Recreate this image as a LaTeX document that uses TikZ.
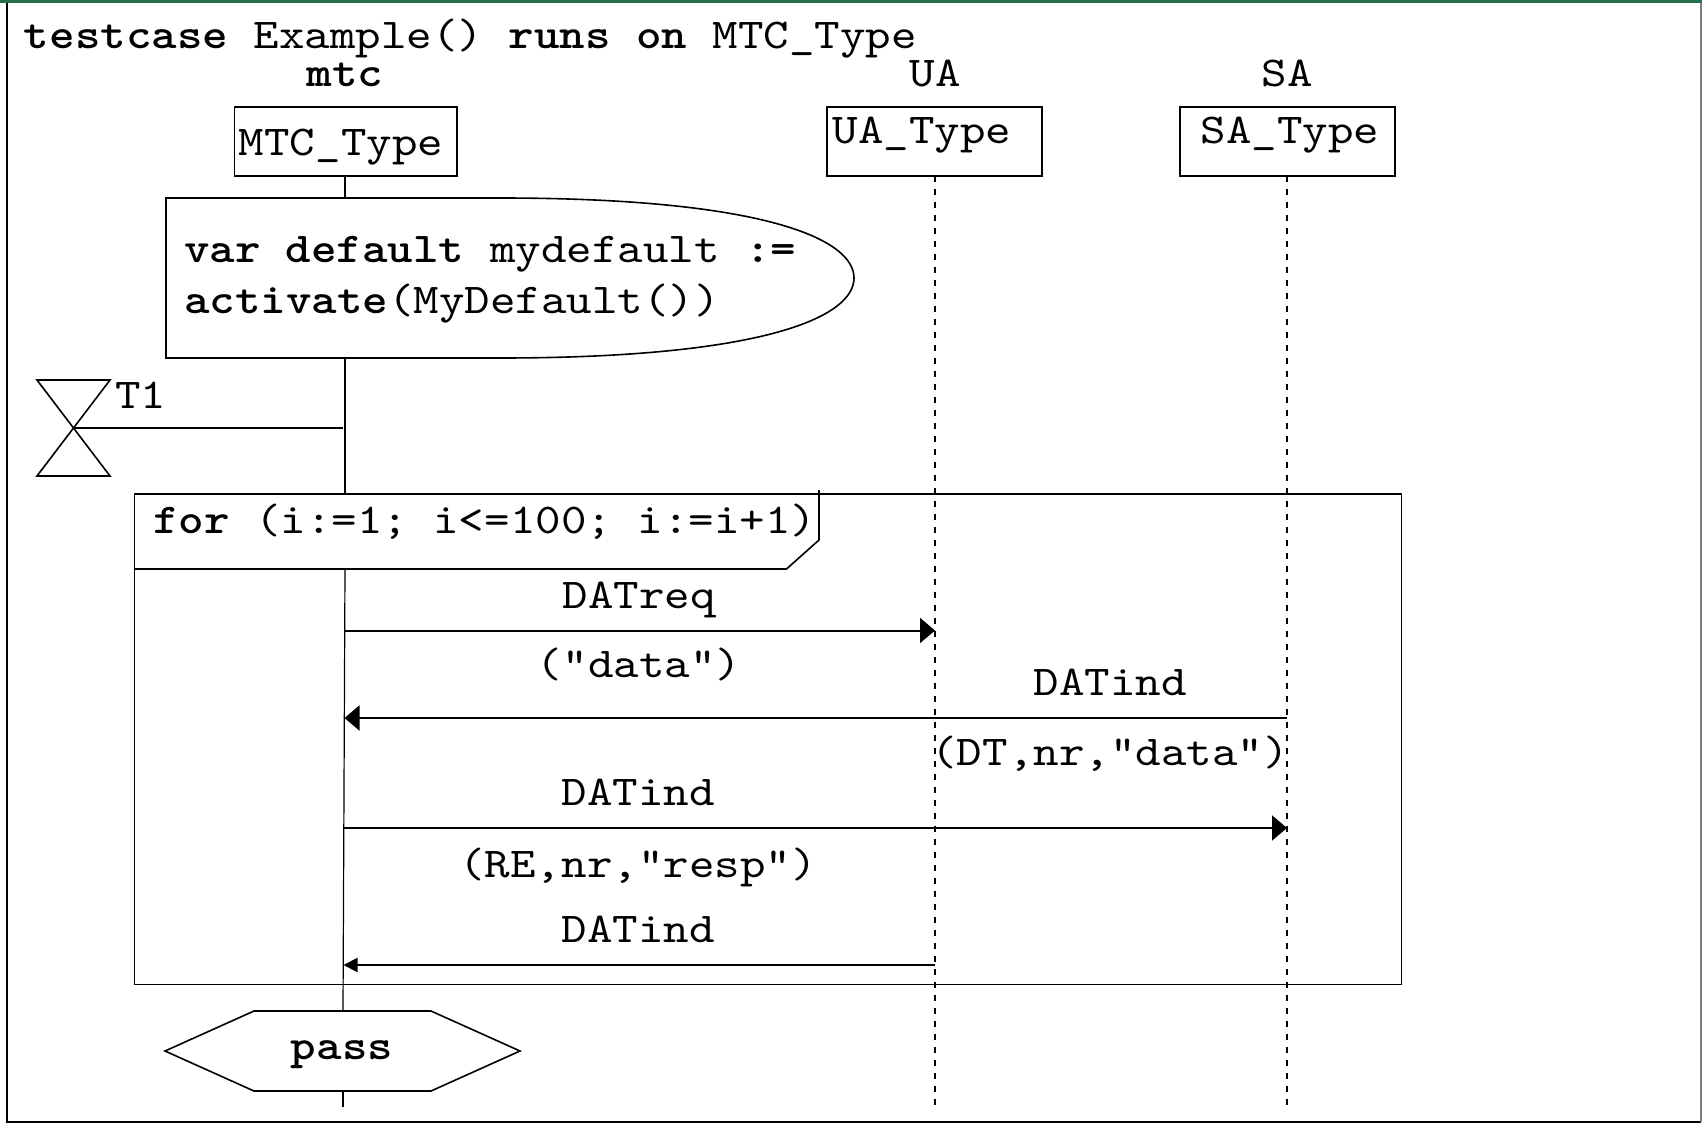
\documentclass[tikz,border=0pt]{standalone}
\usepackage{fontspec}
\setmonofont{lmmono10-regular.otf}[BoldFont=lmmonolt10-bold.otf, FakeStretch=1.143]
\usetikzlibrary{arrows.meta}
\newcommand\dfont{\ttfamily\fontsize{21.25pt}{26pt}\selectfont}
\definecolor{framegreen}{RGB}{40,110,70}
\begin{document}
\begin{tikzpicture}[x=0.5pt,y=-0.5pt,
  every node/.style={font=\dfont, inner sep=0pt, outer sep=0pt},
  box/.style={draw, line width=0.8pt},
  lifeline/.style={line width=0.6pt},
  dashline/.style={line width=0.7pt, dash pattern=on 3pt off 3.5pt},
  msg/.style={line width=1pt, -{Triangle[length=7.5pt,width=12.5pt]}},
  smallmsg/.style={line width=1pt, -{Triangle[length=7pt,width=7pt]}},
  lbl/.style={anchor=base},
  txt/.style={anchor=base west}]
\useasboundingbox (0,0) rectangle (1702,1124);
% frame
\fill[framegreen] (0,0) rectangle (1702,2.6);
\draw[line width=1pt] (6.5,2.6) -- (6.5,1121.5) -- (1701,1121.5);
\draw[line width=0.8pt, gray] (1701,2.6) -- (1701,1121.5);
% title
\node[txt] (title) at (24,48.5) {\textbf{testcase} Example() \textbf{runs on} MTC\_Type};
% headers
\node[lbl] (hmtc) at (345,86) {\textbf{mtc}};
\node[lbl] (hua) at (935,86) {UA};
\node[lbl] (hsa) at (1287,86) {SA};
% instance boxes
\node[box, anchor=north west, minimum width=111.25pt, minimum height=34.35pt] (bmtc) at (234.5,107) {};
\node[box, anchor=north west, minimum width=107.5pt, minimum height=34.35pt] (bua) at (827,107) {};
\node[box, anchor=north west, minimum width=107.5pt, minimum height=34.35pt] (bsa) at (1180,107) {};
\node[lbl] (tmtc) at (341,155) {MTC\_Type};
\node[lbl] (tua) at (922,143) {UA\_Type};
\node[lbl] (tsa) at (1290,143) {SA\_Type};
% default activation
\draw[box] (166,198) -- (500,198) .. controls (760,198) and (854,238) .. (854,278)
  .. controls (854,318) and (760,358) .. (500,358) -- (166,358) -- cycle;
\node[txt] (ell1) at (184,262) {\textbf{var default} mydefault \textbf{:=}};
\node[txt] (ell2) at (184,313) {\textbf{activate}(MyDefault())};
% timer
\draw[box] (37,380) -- (110,380) -- (37,476) -- (110,476) -- cycle;
\coordinate (tcross) at (73.5,428);
\coordinate (tline) at (343,428);
\draw[line width=1pt] (tcross) -- (tline);
\node[txt] (t1) at (115,408) {T1};
% loop
\node[draw, line width=0.85pt, anchor=north west, minimum width=633.5pt, minimum height=245.25pt] (loop) at (134.5,494) {};
\draw[box] (134.5,569) -- (786.5,569) -- (819,540) -- (819,490);
\node[txt] (forlbl) at (153,533) {\textbf{for} (i:=1; i<=100; i:=i+1)};
% mtc lifeline
\coordinate (m0) at (345,175.7);
\coordinate (m1) at (345,198);
\coordinate (m2) at (345,358);
\coordinate (m3) at (345,494);
\coordinate (m4) at (345,569);
\coordinate (m5) at (343,1011);
\coordinate (m6) at (343,1091);
\coordinate (m7) at (343,1107);
\draw[lifeline] (m0) -- (m1);
\draw[lifeline] (m2) -- (m3);
\draw[lifeline] (m4) -- (m5);
\draw[lifeline] (m6) -- (m7);
% dashed lifelines
\coordinate (uaend) at (935,1107);
\coordinate (saend) at (1287,1107);
\draw[dashline] (bua.south -| uaend) -- (uaend);
\draw[dashline] (bsa.south -| saend) -- (saend);
% messages
\coordinate (a1s) at (345,630.5);
\coordinate (a1e) at (935,630.5);
\draw[msg] (a1s) -- (a1e);
\node[lbl] (l1) at (639,608) {DATreq};
\node[lbl] (p1) at (639,677) {("data")};
\coordinate (a2s) at (1287,718);
\coordinate (a2e) at (344.5,718);
\draw[msg] (a2s) -- (a2e);
\node[lbl] (l2) at (1110,695) {DATind};
\node[lbl] (p2) at (1110,765) {(DT,nr,"data")};
\coordinate (a3s) at (344,828);
\coordinate (a3e) at (1287,828);
\draw[msg] (a3s) -- (a3e);
\node[lbl] (l3) at (638,805) {DATind};
\node[lbl] (p3) at (638,877) {(RE,nr,"resp")};
\coordinate (a4s) at (935,965);
\coordinate (a4e) at (343.5,965);
\draw[smallmsg] (a4s) -- (a4e);
\node[lbl] (l4) at (638,942) {DATind};
% pass
\draw[box] (165,1051) -- (254,1011) -- (431,1011) -- (520,1051) -- (431,1091) -- (254,1091) -- cycle;
\node[lbl] (pass) at (342,1059) {\textbf{pass}};
\end{tikzpicture}
\end{document}
